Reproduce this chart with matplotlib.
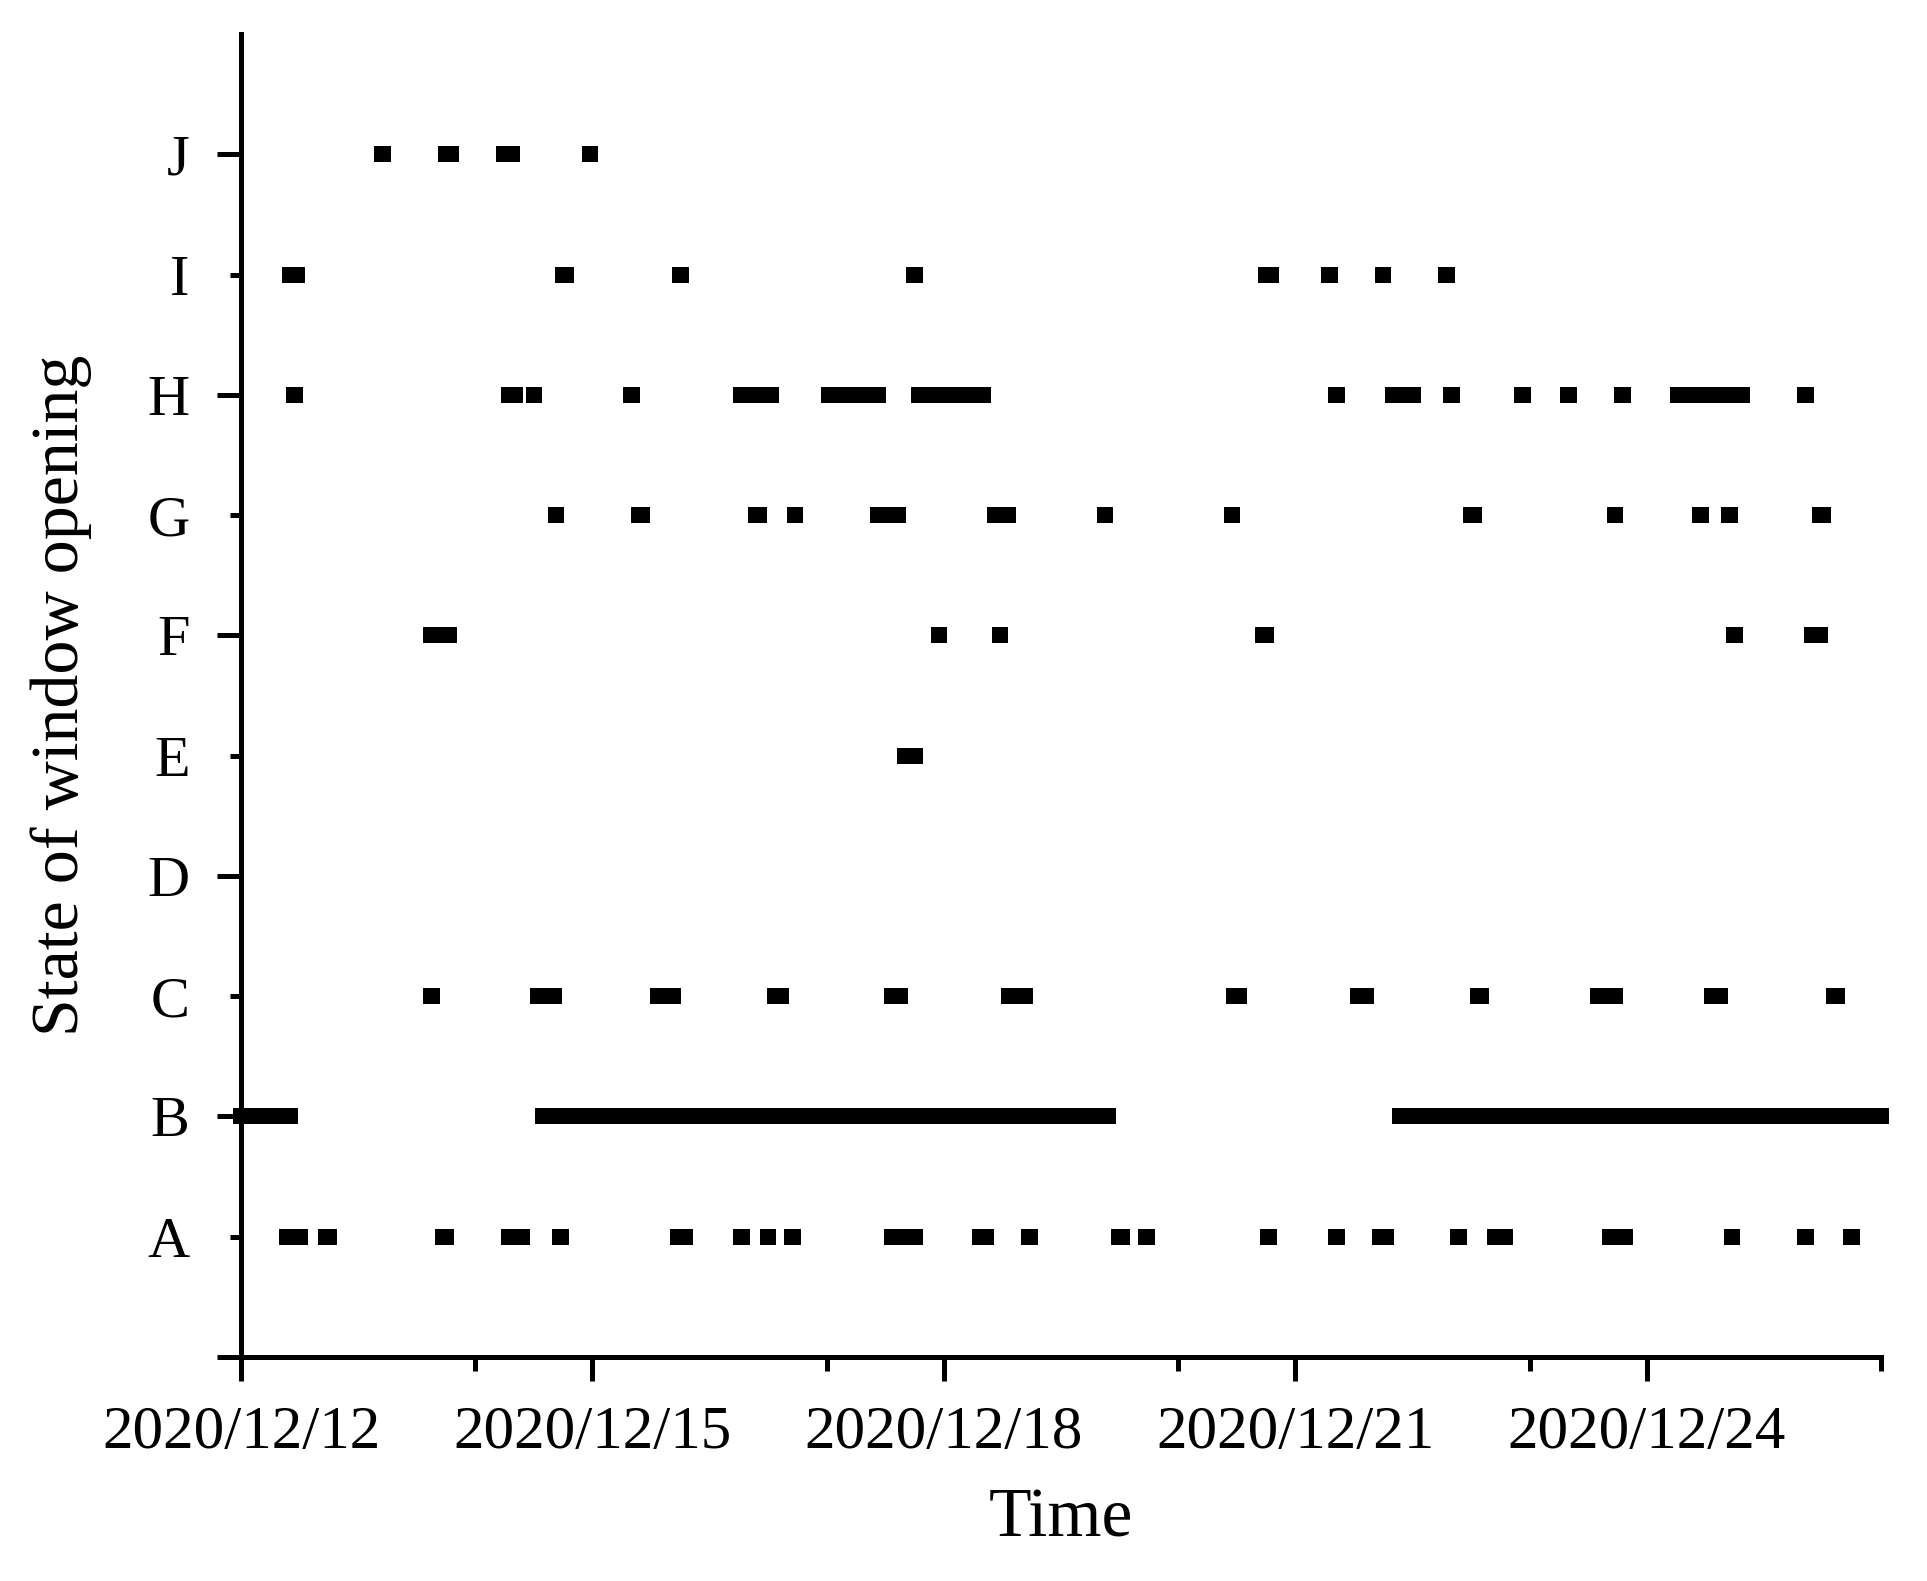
import numpy as np
import pandas as pd
import matplotlib
matplotlib.use("Agg")
import matplotlib.pyplot as plt
import matplotlib.dates as mdates

plt.rcParams['font.family'] = ['Liberation Serif', 'DejaVu Serif']

# 部屋 (y軸のカテゴリ)
rooms = ["A", "B", "C", "D", "E", "F", "G", "H", "I", "J"]

# 窓が開いていた時間帯 (開始, 終了) : 2020/12/12 00:00 からの経過時間 [h]
open_A = [(9.5, 12), (17.5, 18), (41.5, 42), (55, 57.5), (65.5, 65.5), (89.5, 91),
          (102.5, 102.5), (108, 108), (113, 113), (133.5, 138), (151.5, 152.5),
          (161.5, 161.5), (180, 180.5), (185.5, 185.5), (210.5, 210.5), (224.5, 224.5),
          (233.5, 234.5), (249.5, 249.5), (257, 259), (280.5, 283.5), (305.5, 305.5),
          (320.5, 320.5), (330, 330)]
open_B = [(0, 10), (62, 177.5), (237.5, 336)]
open_C = [(39, 39), (61, 64), (85.5, 88.5), (109.5, 110.5), (133.5, 135), (157.5, 160.5),
          (203.5, 204.5), (229, 230.5), (253.5, 254), (278, 281.5), (301.5, 303), (326.5, 327)]
open_D = []
open_E = [(136, 138)]
open_F = [(39, 42.5), (143, 143), (155.5, 155.5), (209.5, 210), (306, 306), (322, 323.5)]
open_G = [(64.5, 64.5), (81.5, 82), (105.5, 106), (113.5, 113.5), (130.5, 134.5), (154.5, 157),
          (177, 177), (203, 203), (252, 252.5), (281.5, 281.5), (299, 299), (305, 305),
          (323.5, 324)]
open_H = [(11, 11), (55, 56), (60, 60), (80, 80), (102.5, 108.5), (120.5, 130.5), (139, 152),
          (224.5, 224.5), (236, 240), (248, 248), (262.5, 262.5), (272, 272), (283, 283),
          (294.5, 307.5), (320.5, 320.5)]
open_I = [(10, 11.5), (66, 66.5), (90, 90), (138, 138), (210, 211), (223, 223), (234, 234), (247, 247)]
open_J = [(29, 29), (42, 43), (54, 55.5), (71.5, 71.5)]

all_open = [open_A, open_B, open_C, open_D, open_E, open_F, open_G, open_H, open_I, open_J]

start = pd.Timestamp("2020-12-12")
t0 = mdates.date2num(start)

# 四角マーカーの大きさ (半幅[h], 高さ)
half_w = 1.7
bar_h = 0.133

fig, ax = plt.subplots(figsize=(19.27, 15.81), dpi=100)
fig.subplots_adjust(left=0.1251, right=0.9761, bottom=0.1417, top=0.9785)

# 開いている時間帯を黒い四角で描く
for i, periods in enumerate(all_open):
    y = i + 1
    xr = [(t0 + (s - half_w) / 24, (e - s + 2 * half_w) / 24) for s, e in periods]
    if xr:
        ax.broken_barh(xr, (y - bar_h / 2, bar_h), facecolors="black",
                       edgecolor="none", clip_on=False)

# x軸
ax.set_xlim(start, start + pd.Timedelta(days=14))
ax.xaxis.set_major_locator(mdates.DayLocator(bymonthday=[12, 15, 18, 21, 24]))
ax.xaxis.set_minor_locator(mdates.DayLocator(bymonthday=[14, 17, 20, 23, 26]))
ax.xaxis.set_major_formatter(mdates.DateFormatter("%Y/%m/%d"))
ax.tick_params(axis="x", which="major", length=17, width=3.6, labelsize=44, pad=18)
ax.tick_params(axis="x", which="minor", length=10, width=3.6)

# y軸
ax.set_ylim(0, 11)
ax.set_yticks(range(0, 11))
ax.set_yticklabels([""] + rooms)
ax.tick_params(axis="y", length=17, width=3.6, labelsize=42, pad=20)
for k, tick in enumerate(ax.yaxis.get_major_ticks()):
    if k % 2 == 1:
        tick.tick1line.set_markersize(8)

for side in ["top", "right"]:
    ax.spines[side].set_visible(False)
for side in ["left", "bottom"]:
    ax.spines[side].set_linewidth(3.6)

ax.set_xlabel("Time", fontsize=50)
ax.xaxis.set_label_coords(0.5, -0.099)
ax.set_ylabel("State of window opening", fontsize=49)
ax.yaxis.set_label_coords(-0.0909, 0.5)

plt.savefig("out.png", dpi=100)
